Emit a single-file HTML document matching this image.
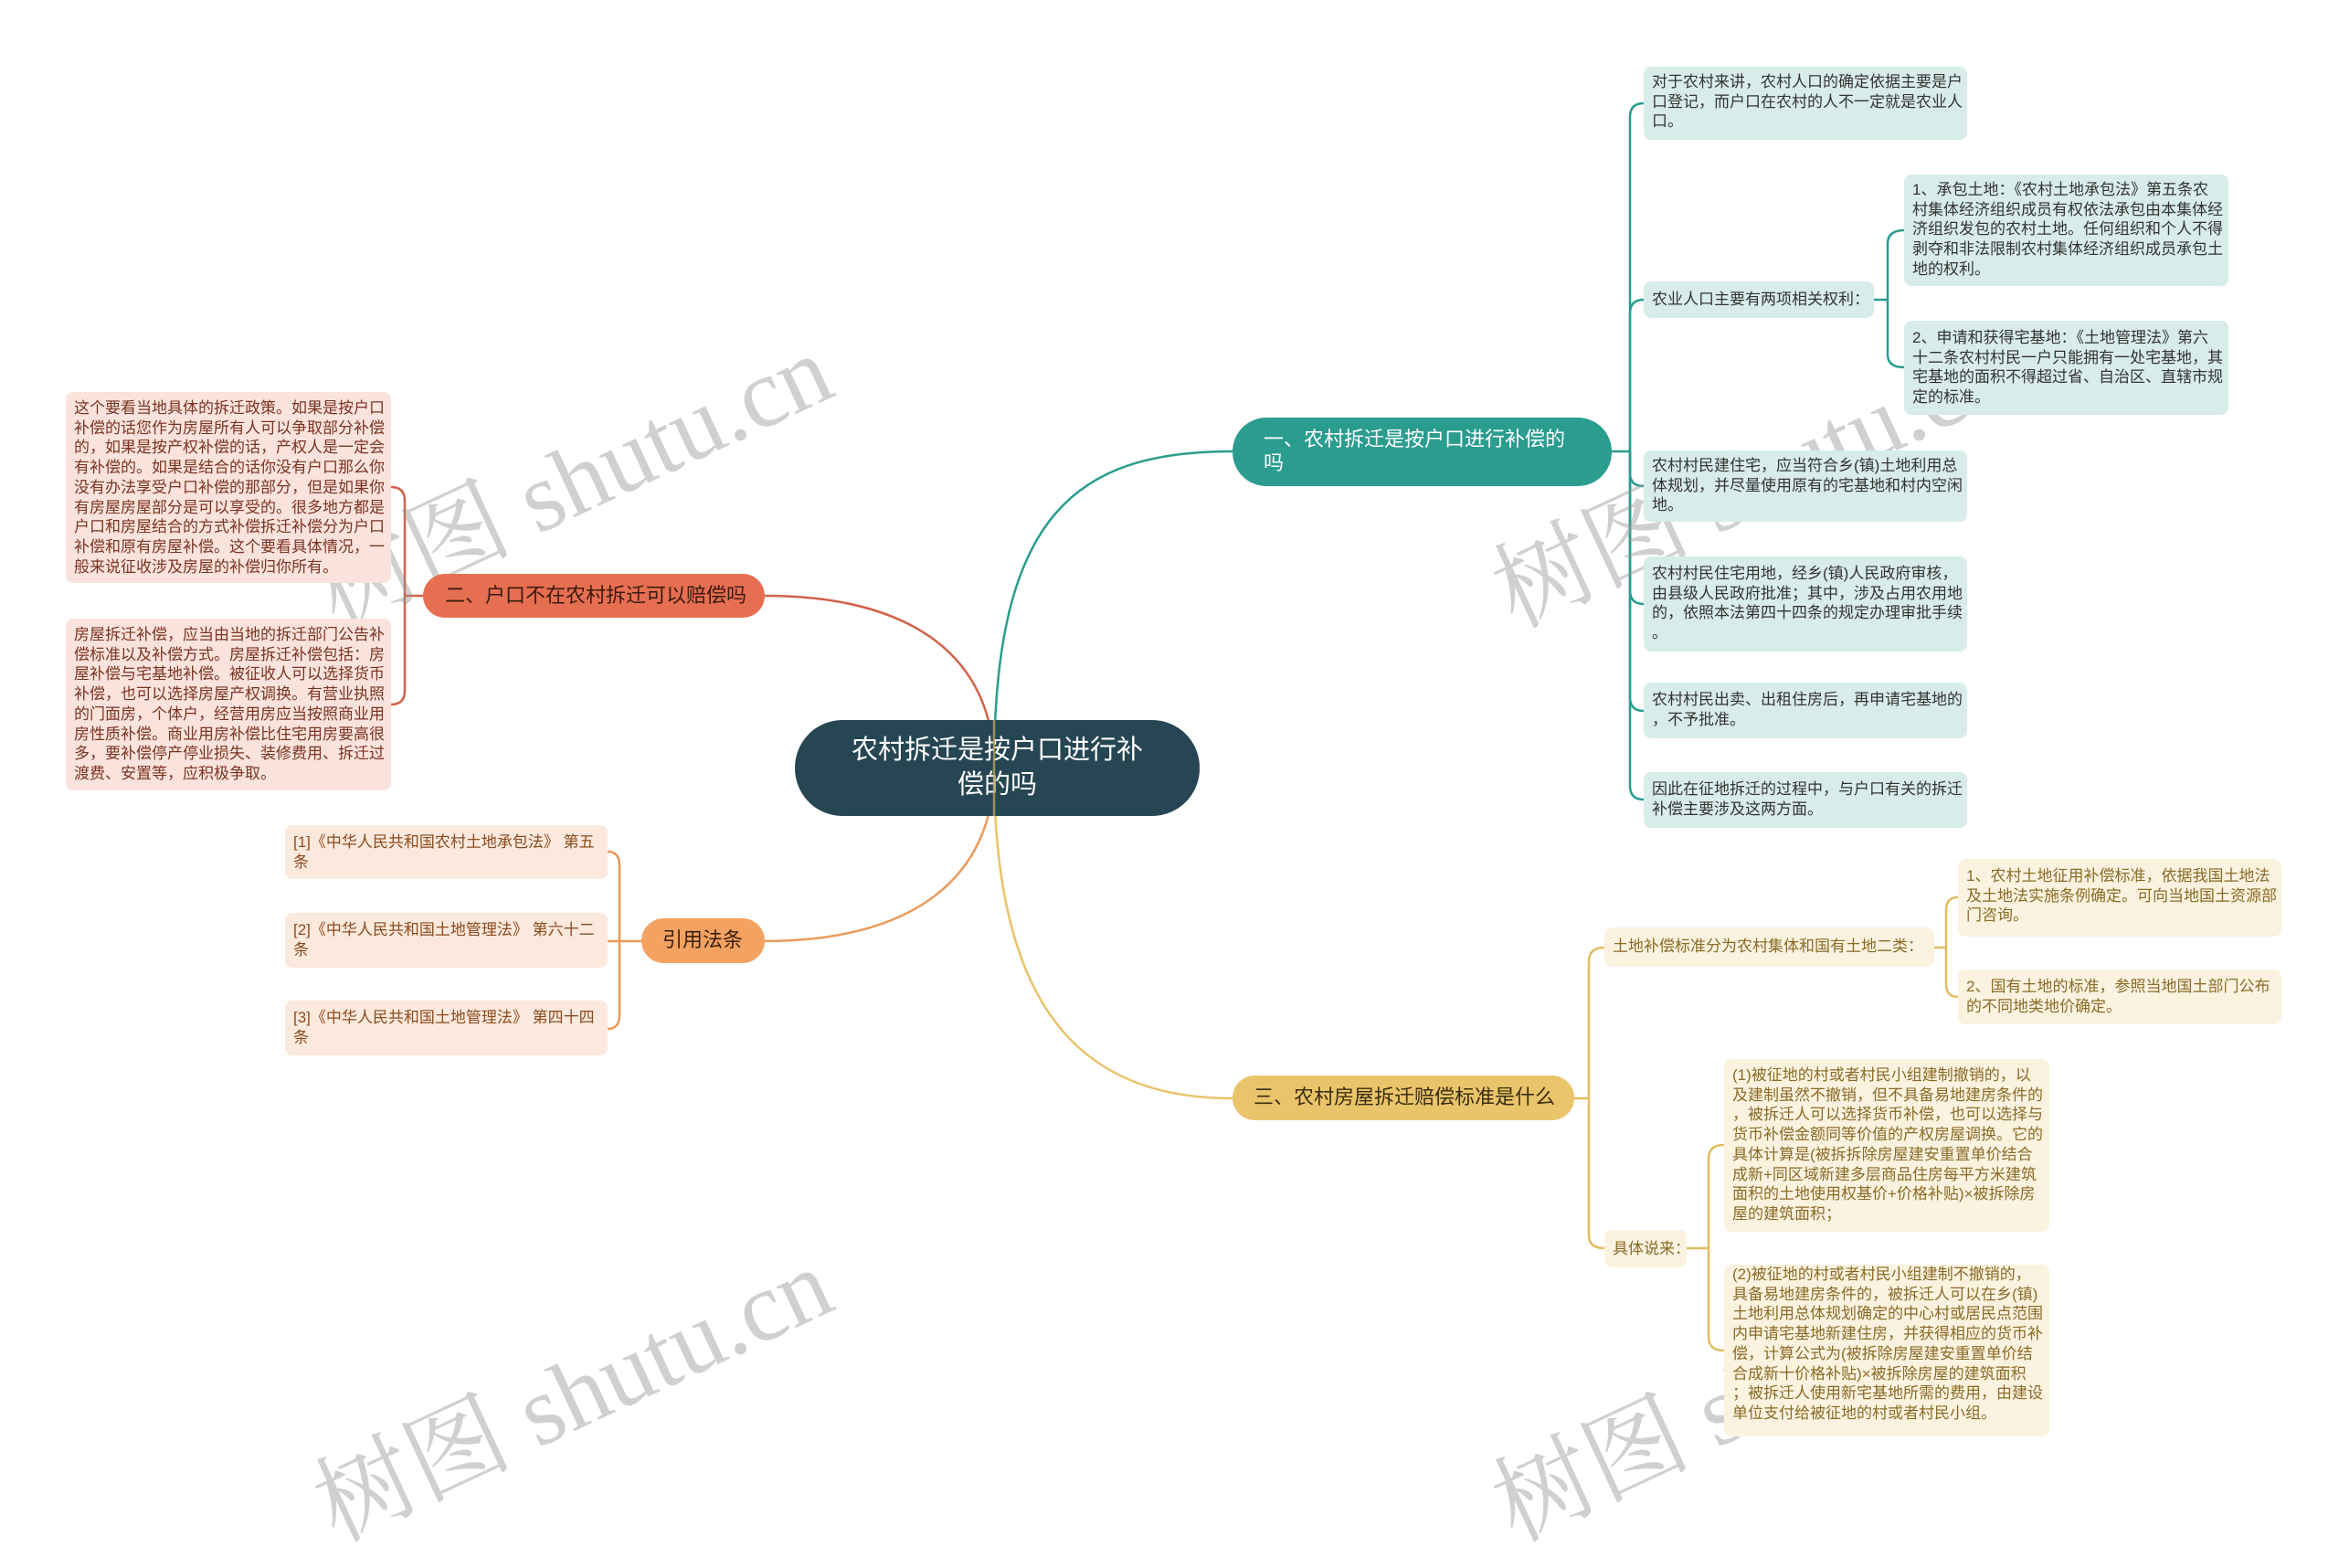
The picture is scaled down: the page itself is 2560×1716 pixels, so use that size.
<!DOCTYPE html>
<html><head><meta charset="utf-8">
<style>
*{margin:0;padding:0;box-sizing:border-box}
body{width:2560px;height:1647px;background:#fff;position:relative;overflow:hidden;font-family:"Liberation Sans","Noto Sans CJK SC",sans-serif}
.b{position:absolute;border-radius:8px;font-size:17px;line-height:21.7px;white-space:nowrap;padding:8px 9px}
.t{background:#d8ecea;color:#333}
.r{background:#fae3dc;color:#7a3422}
.y{background:#fbf3e0;color:#8a6a26}
.l{background:#fce9de;color:#8a4b1e}
.n{position:absolute;border-radius:26px;font-size:22px;line-height:26px;white-space:nowrap}
.wm{position:absolute;font-family:"Liberation Serif","Noto Serif CJK SC",serif;font-size:108px;color:rgba(150,150,150,0.45);transform:rotate(-25deg);white-space:nowrap;transform-origin:center}
</style></head><body>
<svg width="2560" height="1647" style="position:absolute;left:0;top:0" fill="none" stroke-width="2.5">
<!-- main branches -->
<path d="M1088,840 C1088,560 1180,494 1349,494" stroke="#2a9d8f"/>
<path d="M1088,840 C1088,1100 1180,1202 1349,1202" stroke="#e9c46a"/>
<path d="M1088,840 C1088,720 1000,652 837,652" stroke="#d0634a"/>
<path d="M1088,840 C1088,960 1000,1030 837,1030" stroke="#eb9a5a"/>
<!-- teal -->
<g stroke="#2a9d8f">
<path d="M1764,494 H1784"/>
<path d="M1784,494 V128 Q1784,113 1799,113"/>
<path d="M1784,494 V343 Q1784,328 1799,328"/>
<path d="M1784,494 V518 Q1784,532 1799,532"/>
<path d="M1784,494 V646 Q1784,661 1799,661"/>
<path d="M1784,494 V763 Q1784,778 1799,778"/>
<path d="M1784,494 V860 Q1784,875 1799,875"/>
<path d="M2051,328 H2066"/>
<path d="M2066,328 V267 Q2066,252 2084,252"/>
<path d="M2066,328 V388 Q2066,402 2084,402"/>
</g>
<!-- yellow -->
<g stroke="#e2bd62">
<path d="M1723,1202 H1739"/>
<path d="M1739,1202 V1052 Q1739,1037 1756,1037"/>
<path d="M1739,1202 V1352 Q1739,1366 1756,1366"/>
<path d="M2117,1037 H2130"/>
<path d="M2130,1037 V996 Q2130,982 2143,982"/>
<path d="M2130,1037 V1077 Q2130,1091 2143,1091"/>
<path d="M1846,1366 H1870"/>
<path d="M1870,1366 V1268 Q1870,1253 1887,1253"/>
<path d="M1870,1366 V1463 Q1870,1478 1887,1478"/>
</g>
<!-- red -->
<g stroke="#d0634a">
<path d="M463,652 H443"/>
<path d="M443,652 V548 Q443,533 428,533"/>
<path d="M443,652 V756 Q443,771 428,771"/>
</g>
<!-- law -->
<g stroke="#eb9a5a">
<path d="M702,1030 H678"/>
<path d="M678,1030 V947 Q678,932 665,932"/>
<path d="M678,1030 H665"/>
<path d="M678,1030 V1111 Q678,1126 665,1126"/>
</g>
</svg>

<div class="wm" style="left:320px;top:440px">树图 shutu.cn</div>
<div class="wm" style="left:1610px;top:440px">树图 shutu.cn</div>
<div class="wm" style="left:320px;top:1440px">树图 shutu.cn</div>
<div class="wm" style="left:1610px;top:1440px">树图 shutu.cn</div>

<!-- center -->
<div style="position:absolute;left:870px;top:788px;width:443px;height:105px;border-radius:52px;background:#264653;color:#fff;font-size:29px;line-height:38px;text-align:center;padding-top:14px">农村拆迁是按户口进行补<br>偿的吗</div>
<svg width="2560" height="1647" style="position:absolute;left:0;top:0;pointer-events:none" fill="none" stroke-width="2.5">
<path d="M1088,788 V893" stroke="#b9a35a" opacity="0.8"/>
</svg>

<!-- main nodes -->
<div class="n" style="left:1349px;top:457px;width:415px;height:75px;background:#2a9d8f;color:#fff;padding:11px 0 0 34px;border-radius:37px">一、农村拆迁是按户口进行补偿的<br>吗</div>
<div class="n" style="left:463px;top:628px;width:374px;height:48px;background:#e76f51;color:#3a1a10;padding:11px 0 0 24px">二、户口不在农村拆迁可以赔偿吗</div>
<div class="n" style="left:702px;top:1005px;width:135px;height:49px;background:#f4a261;color:#3a2010;padding:11px 0 0 23px">引用法条</div>
<div class="n" style="left:1349px;top:1177px;width:374px;height:49px;background:#e9c46a;color:#3a2d10;padding:11px 0 0 23px">三、农村房屋拆迁赔偿标准是什么</div>

<!-- teal leaves -->
<div class="b t" style="left:1799px;top:73px;width:354px;height:80px;padding-top:6px">对于农村来讲，农村人口的确定依据主要是户<br>口登记，而户口在农村的人不一定就是农业人<br>口。</div>
<div class="b t" style="left:1799px;top:308px;width:252px;height:40px;padding-top:9px">农业人口主要有两项相关权利：</div>
<div class="b t" style="left:2084px;top:191px;width:355px;height:122px;padding-top:6px">1、承包土地：《农村土地承包法》第五条农<br>村集体经济组织成员有权依法承包由本集体经<br>济组织发包的农村土地。任何组织和个人不得<br>剥夺和非法限制农村集体经济组织成员承包土<br>地的权利。</div>
<div class="b t" style="left:2084px;top:351px;width:355px;height:103px;padding-top:8px">2、申请和获得宅基地：《土地管理法》第六<br>十二条农村村民一户只能拥有一处宅基地，其<br>宅基地的面积不得超过省、自治区、直辖市规<br>定的标准。</div>
<div class="b t" style="left:1799px;top:493px;width:354px;height:78px;padding-top:6px">农村村民建住宅，应当符合乡(镇)土地利用总<br>体规划，并尽量使用原有的宅基地和村内空闲<br>地。</div>
<div class="b t" style="left:1799px;top:609px;width:354px;height:104px;padding-top:8px">农村村民住宅用地，经乡(镇)人民政府审核，<br>由县级人民政府批准；其中，涉及占用农用地<br>的，依照本法第四十四条的规定办理审批手续<br>。</div>
<div class="b t" style="left:1799px;top:747px;width:354px;height:61px;padding-top:8px">农村村民出卖、出租住房后，再申请宅基地的<br>，不予批准。</div>
<div class="b t" style="left:1799px;top:845px;width:354px;height:61px;padding-top:8px">因此在征地拆迁的过程中，与户口有关的拆迁<br>补偿主要涉及这两方面。</div>

<!-- red leaves -->
<div class="b r" style="left:72px;top:429px;width:356px;height:209px;padding-top:7px">这个要看当地具体的拆迁政策。如果是按户口<br>补偿的话您作为房屋所有人可以争取部分补偿<br>的，如果是按产权补偿的话，产权人是一定会<br>有补偿的。如果是结合的话你没有户口那么你<br>没有办法享受户口补偿的那部分，但是如果你<br>有房屋房屋部分是可以享受的。很多地方都是<br>户口和房屋结合的方式补偿拆迁补偿分为户口<br>补偿和原有房屋补偿。这个要看具体情况，一<br>般来说征收涉及房屋的补偿归你所有。</div>
<div class="b r" style="left:72px;top:677px;width:356px;height:188px;padding-top:7px">房屋拆迁补偿，应当由当地的拆迁部门公告补<br>偿标准以及补偿方式。房屋拆迁补偿包括：房<br>屋补偿与宅基地补偿。被征收人可以选择货币<br>补偿，也可以选择房屋产权调换。有营业执照<br>的门面房，个体户，经营用房应当按照商业用<br>房性质补偿。商业用房补偿比住宅用房要高很<br>多，要补偿停产停业损失、装修费用、拆迁过<br>渡费、安置等，应积极争取。</div>

<!-- law leaves -->
<div class="b l" style="left:312px;top:903px;width:353px;height:59px;padding-top:8px">[1]《中华人民共和国农村土地承包法》 第五<br>条</div>
<div class="b l" style="left:312px;top:999px;width:353px;height:60px;padding-top:8px">[2]《中华人民共和国土地管理法》 第六十二<br>条</div>
<div class="b l" style="left:312px;top:1095px;width:353px;height:60px;padding-top:8px">[3]《中华人民共和国土地管理法》 第四十四<br>条</div>

<!-- yellow leaves -->
<div class="b y" style="left:1756px;top:1015px;width:361px;height:43px;padding-top:10px">土地补偿标准分为农村集体和国有土地二类：</div>
<div class="b y" style="left:2143px;top:940px;width:354px;height:85px;padding-top:8px">1、农村土地征用补偿标准，依据我国土地法<br>及土地法实施条例确定。可向当地国土资源部<br>门咨询。</div>
<div class="b y" style="left:2143px;top:1061px;width:354px;height:60px;padding-top:8px">2、国有土地的标准，参照当地国土部门公布<br>的不同地类地价确定。</div>
<div class="b y" style="left:1756px;top:1346px;width:90px;height:41px;padding-top:10px">具体说来：</div>
<div class="b y" style="left:1887px;top:1159px;width:356px;height:189px;padding-top:7px">(1)被征地的村或者村民小组建制撤销的，以<br>及建制虽然不撤销，但不具备易地建房条件的<br>，被拆迁人可以选择货币补偿，也可以选择与<br>货币补偿金额同等价值的产权房屋调换。它的<br>具体计算是(被拆拆除房屋建安重置单价结合<br>成新+同区域新建多层商品住房每平方米建筑<br>面积的土地使用权基价+价格补贴)×被拆除房<br>屋的建筑面积；</div>
<div class="b y" style="left:1887px;top:1384px;width:356px;height:188px;padding-top:-2px;padding-top:0px"><div style="padding-top:0">(2)被征地的村或者村民小组建制不撤销的，<br>具备易地建房条件的，被拆迁人可以在乡(镇)<br>土地利用总体规划确定的中心村或居民点范围<br>内申请宅基地新建住房，并获得相应的货币补<br>偿，计算公式为(被拆除房屋建安重置单价结<br>合成新十价格补贴)×被拆除房屋的建筑面积<br>；被拆迁人使用新宅基地所需的费用，由建设<br>单位支付给被征地的村或者村民小组。</div></div>
</body></html>
